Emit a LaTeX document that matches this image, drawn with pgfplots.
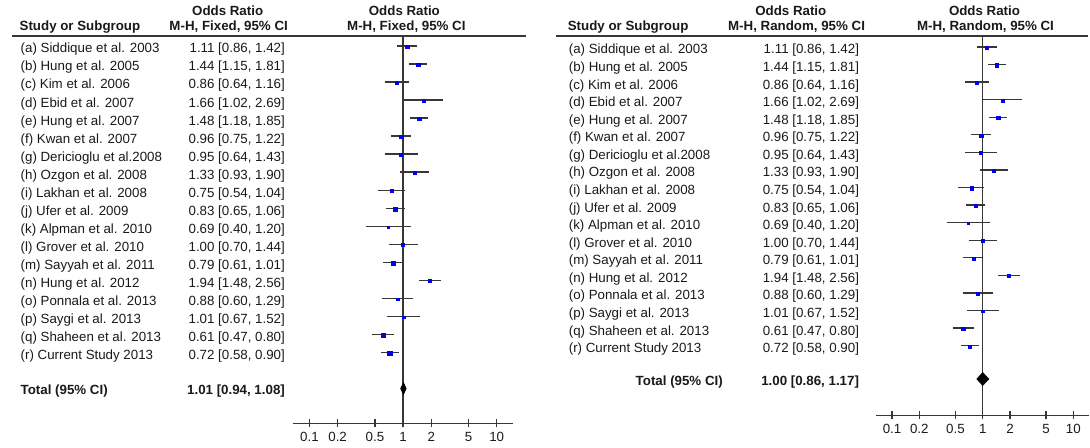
\documentclass[border=0pt]{standalone}
\usepackage{pgfplots}
\usepackage{pgfplotstable}
\pgfplotsset{compat=1.18}
\usepackage{fontspec}
\setmainfont{Liberation Sans}

\definecolor{sq}{RGB}{0,0,240}
\definecolor{ln}{RGB}{55,55,55}
\definecolor{tx}{RGB}{25,25,25}

% row, odds ratio, square side (px) for fixed / random weights
\pgfplotstableread{
row or   sf  sr
1   1.11 3.3 3.0
2   1.44 3.5 3.0
3   0.86 3.0 3.0
4   1.66 2.3 2.7
5   1.48 3.5 3.0
6   0.96 3.5 3.0
7   0.95 2.7 2.7
8   1.33 2.3 2.7
9   0.75 2.7 3.0
10  0.83 3.5 3.0
11  0.69 2.3 2.5
12  1.00 2.7 2.7
13  0.79 3.5 3.0
14  1.94 2.7 3.0
15  0.88 2.3 2.7
16  1.01 2.3 2.7
17  0.61 3.5 3.0
18  0.72 4.3 3.0
}\ortab

% 95% CI ends (lower, upper), rows separated by a break
\pgfplotstableread{
row x
1  0.86
1  1.42
1  nan
2  1.15
2  1.81
2  nan
3  0.64
3  1.16
3  nan
4  1.02
4  2.69
4  nan
5  1.18
5  1.85
5  nan
6  0.75
6  1.22
6  nan
7  0.64
7  1.43
7  nan
8  0.93
8  1.90
8  nan
9  0.54
9  1.04
9  nan
10 0.65
10 1.06
10 nan
11 0.40
11 1.20
11 nan
12 0.70
12 1.44
12 nan
13 0.61
13 1.01
13 nan
14 1.48
14 2.56
14 nan
15 0.60
15 1.29
15 nan
16 0.67
16 1.52
16 nan
17 0.47
17 0.80
17 nan
18 0.58
18 0.90
}\citab

\def\studylist{1/{(a) Siddique et al. 2003}/{1.11 [0.86, 1.42]},
2/{(b) Hung et al. 2005}/{1.44 [1.15, 1.81]},
3/{(c) Kim et al. 2006}/{0.86 [0.64, 1.16]},
4/{(d) Ebid et al. 2007}/{1.66 [1.02, 2.69]},
5/{(e) Hung et al. 2007}/{1.48 [1.18, 1.85]},
6/{(f) Kwan et al. 2007}/{0.96 [0.75, 1.22]},
7/{(g) Dericioglu et al.2008}/{0.95 [0.64, 1.43]},
8/{(h) Ozgon et al. 2008}/{1.33 [0.93, 1.90]},
9/{(i) Lakhan et al. 2008}/{0.75 [0.54, 1.04]},
10/{(j) Ufer et al. 2009}/{0.83 [0.65, 1.06]},
11/{(k) Alpman et al. 2010}/{0.69 [0.40, 1.20]},
12/{(l) Grover et al. 2010}/{1.00 [0.70, 1.44]},
13/{(m) Sayyah et al. 2011}/{0.79 [0.61, 1.01]},
14/{(n) Hung et al. 2012}/{1.94 [1.48, 2.56]},
15/{(o) Ponnala et al. 2013}/{0.88 [0.60, 1.29]},
16/{(p) Saygi et al. 2013}/{1.01 [0.67, 1.52]},
17/{(q) Shaheen et al. 2013}/{0.61 [0.47, 0.80]},
18/{(r) Current Study 2013}/{0.72 [0.58, 0.90]}}

\begin{document}
\begin{tikzpicture}[every node/.style={text=tx}]
\begin{scope}[x=0.75pt, y=-0.75pt]
\useasboundingbox (0,0) rectangle (1090,448);

% ---- left panel (fixed) ----
\node[anchor=base, font=\bfseries] at (228,16) {Odds Ratio};
\node[anchor=base, font=\bfseries] at (405,16) {Odds Ratio};
\node[anchor=base west, font=\bfseries] at (15,31) {Study or Subgroup};
\node[anchor=base east, font=\bfseries] at (293,31) {M-H, Fixed, 95\% CI};
\node[anchor=base, font=\bfseries] at (407,31) {M-H, Fixed, 95\% CI};
\draw[ln, line width=1pt] (12,36) -- (527,36);
\foreach \i/\n/\v in \studylist {
  \node[anchor=base west] at (16,{46+18.06*(\i-1)+7}) {\n};
  \node[anchor=base east] at (290,{46+18.06*(\i-1)+7}) {\v};
}
\node[anchor=base west, font=\bfseries] at (16,395) {Total (95\% CI)};
\node[anchor=base east, font=\bfseries] at (290,395) {1.01 [0.94, 1.08]};

% ---- right panel (random) ----
\node[anchor=base, font=\bfseries] at (792,16) {Odds Ratio};
\node[anchor=base, font=\bfseries] at (986,16) {Odds Ratio};
\node[anchor=base west, font=\bfseries] at (564,31) {Study or Subgroup};
\node[anchor=base east, font=\bfseries] at (871,31) {M-H, Random, 95\% CI};
\node[anchor=base, font=\bfseries] at (987,31) {M-H, Random, 95\% CI};
\draw[ln, line width=1pt] (557,36) -- (1090,36);
\foreach \i/\n/\v in \studylist {
  \node[anchor=base west] at (565,{47+17.6*(\i-1)+7}) {\n};
  \node[anchor=base east] at (865,{47+17.6*(\i-1)+7}) {\v};
}
\node[anchor=base west, font=\bfseries] at (632,386) {Total (95\% CI)};
\node[anchor=base east, font=\bfseries] at (865,386) {1.00 [0.86, 1.17]};
\end{scope}

% fixed-effect forest plot
\begin{axis}[
  scale only axis,
  at={(293*0.75pt,-36*0.75pt)}, anchor=north west,
  width=221*0.75pt, height=388*0.75pt,
  xmode=log,
  xmin=0.066, xmax=15,
  ymin=-21.93, ymax=-0.446,
  axis x line=bottom, axis y line=none,
  axis line style={ln, line width=1pt, -},
  xtick={0.1,0.2,0.5,1,2,5,10},
  xticklabels={0.1,0.2,0.5,1,2,5,10},
  minor xtick={},
  tick align=center,
  major tick length=6pt,
  xtick style={ln, line width=1pt},
  xticklabel style={font=\normalsize},
  clip=false]
  \addplot[ln, line width=1pt] coordinates {(1,-21.93) (1,-0.446)};
  \addplot[ln, line width=1pt, unbounded coords=jump]
    table[x=x, y expr=-\thisrow{row}] {\citab};
  \addplot[only marks, mark=square*, scatter,
    scatter/use mapped color={draw=sq, fill=sq, line width=0.3pt},
    visualization depends on={0.4*\thisrow{sf} \as \msz},
    scatter/@pre marker code/.append style={/tikz/mark size=\msz}]
    table[x=or, y expr=-\thisrow{row}-0.04] {\ortab};
  \addplot[fill=black, draw=black] coordinates
    {(0.94,-20) (1.01,-19.67) (1.08,-20) (1.01,-20.33)} -- cycle;
\end{axis}

% random-effects forest plot
\begin{axis}[
  scale only axis,
  at={(877*0.75pt,-36*0.75pt)}, anchor=north west,
  width=214*0.75pt, height=380*0.75pt,
  xmode=log,
  xmin=0.066, xmax=15,
  ymin=-21.97, ymax=-0.375,
  axis x line=bottom, axis y line=none,
  axis line style={ln, line width=1pt, -},
  xtick={0.1,0.2,0.5,1,2,5,10},
  xticklabels={0.1,0.2,0.5,1,2,5,10},
  minor xtick={},
  tick align=center,
  major tick length=6pt,
  xtick style={ln, line width=1pt},
  xticklabel style={font=\normalsize},
  clip=false]
  \addplot[ln, line width=1pt] coordinates {(1,-21.97) (1,-0.375)};
  \addplot[ln, line width=1pt, unbounded coords=jump]
    table[x=x, y expr=-\thisrow{row}] {\citab};
  \addplot[only marks, mark=square*, scatter,
    scatter/use mapped color={draw=sq, fill=sq, line width=0.3pt},
    visualization depends on={0.4*\thisrow{sr} \as \msz},
    scatter/@pre marker code/.append style={/tikz/mark size=\msz}]
    table[x=or, y expr=-\thisrow{row}-0.04] {\ortab};
  \addplot[fill=black, draw=black] coordinates
    {(0.86,-19.9) (1.00,-19.53) (1.17,-19.9) (1.00,-20.27)} -- cycle;
\end{axis}
\end{tikzpicture}
\end{document}
